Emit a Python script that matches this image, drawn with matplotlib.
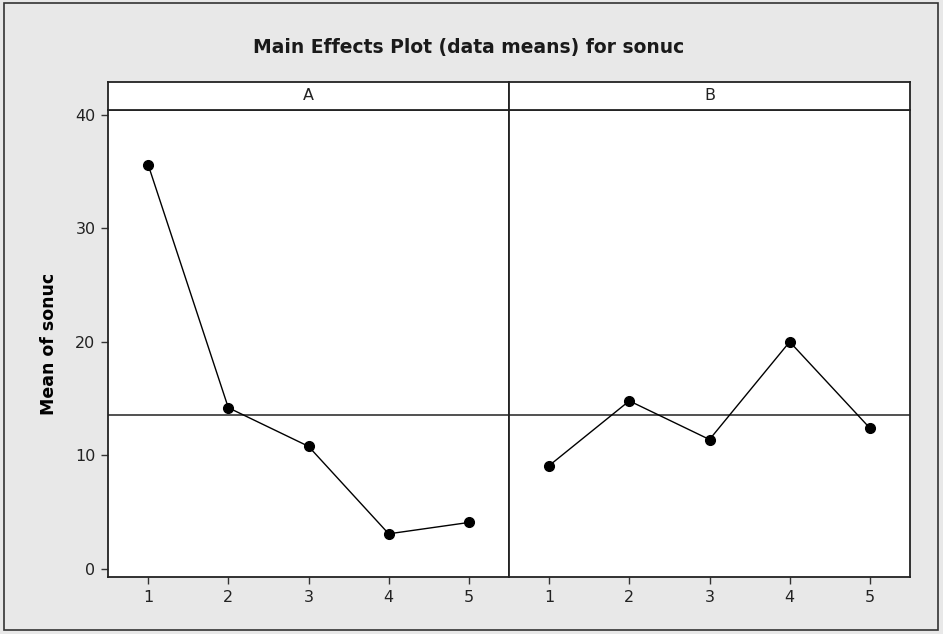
import matplotlib
matplotlib.use("Agg")
import matplotlib.pyplot as plt
from matplotlib.patches import Rectangle

# data
levels = [1, 2, 3, 4, 5]
factors = ["A", "B"]
mean_a = [35.6, 14.2, 10.8, 3.1, 4.1]
mean_b = [9.1, 14.8, 11.4, 20.0, 12.4]
yticks = [0, 10, 20, 30, 40]

grand_mean = sum(mean_a) / len(mean_a)

W, H = 943, 634
fig = plt.figure(figsize=(W / 100, H / 100), dpi=100, facecolor="#E8E8E8")
plt.rcParams["font.family"] = ["DejaVu Sans"]

# outer frame
fig.patches.append(Rectangle((4 / W, 4 / H), 934 / W, 627 / H, transform=fig.transFigure,
                             fill=False, edgecolor="#333333", linewidth=1.2))

fig.text(469 / W, 1 - 47 / H, "Main Effects Plot (data means) for sonuc",
         ha="center", va="center", fontsize=13.5, fontweight="bold", color="#1a1a1a")


def px_axes(x0, y0, x1, y1):
    return fig.add_axes([x0 / W, 1 - y1 / H, (x1 - x0) / W, (y1 - y0) / H])


left, mid, right = 108, 509, 910
top, strip_top, bottom = 110, 82, 577

for i, (name, vals) in enumerate(zip(factors, [mean_a, mean_b])):
    x0 = left if i == 0 else mid
    x1 = mid if i == 0 else right
    ax = px_axes(x0, top, x1, bottom)
    ax.set_facecolor("white")
    ax.plot(levels, vals, color="black", linewidth=1, marker="o", markersize=7, zorder=3)
    ax.axhline(grand_mean, color="#333333", linewidth=1.2, zorder=2)
    ax.set_xlim(0.5, 5.5)
    ax.set_ylim(-0.7, 40.4)
    ax.set_xticks(levels)
    ax.set_yticks(yticks)
    ax.tick_params(direction="out", length=5, width=1, colors="#333333",
                   labelsize=11.5, labelcolor="#222222", pad=4)
    for s in ax.spines.values():
        s.set_linewidth(1.3)
        s.set_color("#222222")
    if i == 1:
        ax.tick_params(axis="y", left=False, labelleft=False)
    else:
        ax.set_ylabel("Mean of sonuc", fontsize=12.5, fontweight="bold", labelpad=12)

    sax = px_axes(x0, strip_top, x1, top)
    sax.set_facecolor("white")
    sax.set_xticks([])
    sax.set_yticks([])
    for s in sax.spines.values():
        s.set_linewidth(1.3)
        s.set_color("#222222")
    sax.text(0.5, 0.5, name, ha="center", va="center", fontsize=11.5,
             transform=sax.transAxes, color="#222222")

fig.savefig("out.png", dpi=100, facecolor=fig.get_facecolor())
